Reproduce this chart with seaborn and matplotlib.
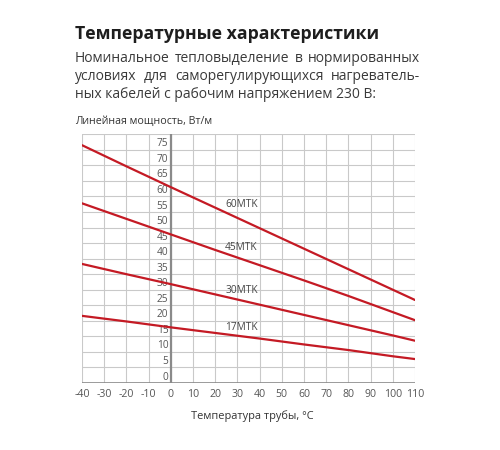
import numpy as np
import pandas as pd
import matplotlib
matplotlib.use("Agg")
import matplotlib.pyplot as plt
import matplotlib.transforms as mtransforms
import seaborn as sns

# ---- data ----
temps = [-40, -20, 0, 20, 40, 60, 80, 100, 110]
p60 = [76.5, 69.7, 63.0, 56.4, 49.8, 43.2, 36.6, 30.0, 26.7]
p45 = [57.8, 52.8, 47.8, 42.8, 37.9, 33.0, 28.0, 22.8, 20.2]
p30 = [38.3, 35.0, 31.8, 28.5, 25.2, 21.9, 18.6, 15.3, 13.6]
p17 = [21.6, 19.8, 17.9, 16.1, 14.3, 12.4, 10.6, 8.6, 7.7]
series_names = ["60MTK", "45MTK", "30MTK", "17MTK"]
label_pos_y = [57.5, 43.6, 29.7, 17.8]
x_ticks = list(range(-40, 111, 10))
y_ticks = list(range(0, 76, 5))

title = "Температурные характеристики"
subtitle_lines = [
    "Номинальное тепловыделение в нормированных",
    "условиях для саморегулирующихся нагреватель-",
    "ных кабелей с рабочим напряжением 230 В:",
]
ylabel = "Линейная мощность, Вт/м"
xlabel = "Температура трубы, °C"

rows = []
for name, vals in zip(series_names, [p60, p45, p30, p17]):
    for t, v in zip(temps, vals):
        rows.append({"t": t, "p": v, "cable": name})
df = pd.DataFrame(rows)

# ---- style ----
sns.set_style("white")
FAM = ["Open Sans", "DejaVu Sans"]
plt.rcParams["font.family"] = FAM

W, H = 500, 450
fig = plt.figure(figsize=(W / 100, H / 100), dpi=100)
L, R, T, B = 82, 415, 134.3, 383
ax = fig.add_axes([L / W, 1 - B / H, (R - L) / W, (B - T) / H])

RED = "#c41a24"
sns.lineplot(data=df, x="t", y="p", hue="cable", palette=[RED] * 4,
             linewidth=1.6, legend=False, ax=ax, zorder=5)

ax.set_xlim(-40, 110)
ax.set_ylim(0, 80)
ax.set_xticks(x_ticks)
ax.set_yticks(list(range(0, 81, 5)))
ax.grid(True, color="#c9c9c9", linewidth=0.8)
ax.set_axisbelow(True)
for s in ax.spines.values():
    s.set_visible(False)
ax.tick_params(axis="both", length=0)
ax.set_yticklabels([])
ax.set_xticklabels([str(v) for v in x_ticks], fontsize=7.6, color="#555555")
ax.tick_params(axis="x", pad=4)
ax.set_xlabel("")
ax.set_ylabel("")

ax.axhline(0, color="#8a8a8a", linewidth=1.2, zorder=3)
ax.axvline(0, color="#8a8a8a", linewidth=1.6, zorder=3)

off = mtransforms.offset_copy(ax.transData, fig=fig, x=-2.5, y=0.5, units="dots")
for v in y_ticks:
    ax.text(0, v, str(v), transform=off, ha="right", va="bottom",
            fontsize=7.3, color="#555555")

for name, yv in zip(series_names, label_pos_y):
    ax.text(24.5, yv, name, ha="left", va="center", fontsize=7.3,
            color="#444444", zorder=6)

# ---- texts ----
def fx(px):
    return px / W

def fy(py):
    return 1 - py / H

fig.text(fx(75), fy(39), title, fontsize=12.7, fontweight="bold",
         color="#1e1e1e", va="baseline", ha="left")

renderer = fig.canvas.get_renderer()
left_px, right_px = 75, 420
baselines = [62, 80, 98]
for i, (line, by) in enumerate(zip(subtitle_lines, baselines)):
    if i < len(subtitle_lines) - 1:
        words = line.split(" ")
        txts = [fig.text(0, fy(by), w, fontsize=10, color="#3a3a3a",
                         va="baseline", ha="left") for w in words]
        widths = [t.get_window_extent(renderer).width for t in txts]
        gap = (right_px - left_px - sum(widths)) / (len(words) - 1)
        x = left_px
        for t, w in zip(txts, widths):
            t.set_position((fx(x), fy(by)))
            x += w + gap
    else:
        fig.text(fx(left_px), fy(by), line, fontsize=10, color="#3a3a3a",
                 va="baseline", ha="left")

fig.text(fx(75), fy(124), ylabel, fontsize=7.7, color="#333333",
         va="baseline", ha="left")
fig.text(fx(252), fy(419), xlabel, fontsize=7.9, color="#333333",
         va="baseline", ha="center")

fig.savefig("out.png", dpi=100, facecolor="white")
